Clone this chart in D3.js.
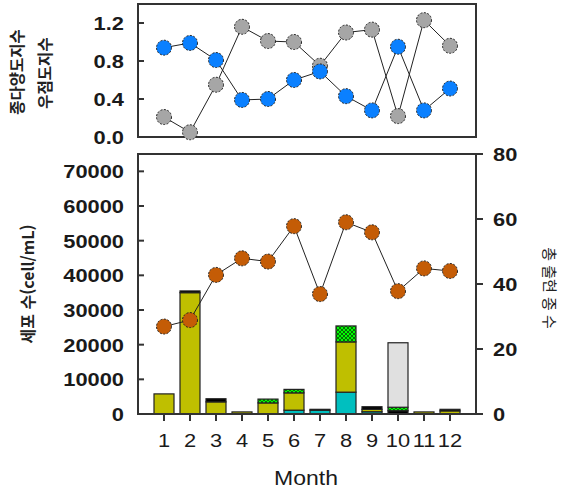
<!DOCTYPE html>
<html lang="ko">
  <head>
    <meta charset="UTF-8" />
    <script src="https://d3js.org/d3.v7.min.js"></script>
    <title>Month chart</title>
    <style>
      body { margin: 0; background: #fff; }
      text { font-family: "Liberation Sans", Arial, sans-serif; }
      .kr { font-family: "Noto Sans CJK KR", sans-serif; }
    </style>
  </head>
  <body>
    <svg id="chart" width="568" height="492"></svg>
    <script>
      // months
      var months = [1, 2, 3, 4, 5, 6, 7, 8, 9, 10, 11, 12];

      // top panel: index values
      var diversity = [0.21, 0.05, 0.55, 1.16, 1.01, 1.0, 0.75, 1.10, 1.13, 0.22, 1.23, 0.96];
      var dominance = [0.94, 0.99, 0.81, 0.39, 0.40, 0.60, 0.69, 0.43, 0.28, 0.95, 0.28, 0.51];
      var topTicks = [0.0, 0.4, 0.8, 1.2];

      // bottom panel: stacked cell counts (cells/mL)
      var cyanCells  = [0, 0, 0, 0, 0, 1100, 1100, 6300, 650, 0, 0, 0];
      var oliveCells = [5800, 35000, 3500, 600, 3200, 5000, 0, 14500, 700, 0, 600, 900];
      var blackCells = [0, 500, 900, 0, 0, 0, 250, 0, 750, 950, 0, 450];
      var greenCells = [0, 0, 0, 0, 1100, 1000, 0, 4600, 0, 1000, 0, 0];
      var grayCells  = [0, 0, 0, 0, 0, 0, 0, 0, 0, 18600, 0, 0];
      var cellTicks = [0, 10000, 20000, 30000, 40000, 50000, 60000, 70000];

      // total species
      var species = [26.9, 28.9, 42.8, 47.9, 46.9, 57.8, 36.9, 59.0, 55.9, 37.8, 44.8, 44.0];
      var speciesTicks = [0, 20, 40, 60, 80];

      var svg = d3.select('#chart');

      var left = 138, right = 476;
      var x = d3.scaleLinear().domain([0, 13]).range([left, right]);
      var stretch = 1.15;   // labels in the source look a bit wide

      // hatched pattern for the green series
      var defs = svg.append('defs');
      var pat = defs.append('pattern')
        .attr('id', 'hatch')
        .attr('width', 4).attr('height', 4)
        .attr('patternUnits', 'userSpaceOnUse');
      pat.append('rect').attr('width', 4).attr('height', 4).attr('fill', '#00ff00');
      pat.append('path').attr('d', 'M0,0 L4,4 M4,0 L0,4')
        .attr('stroke', '#0a5a0a').attr('stroke-width', 0.9);

      function label(g, tx, ty, anchor, size, bold, str) {
        return g.append('text')
          .attr('transform', 'translate(' + tx + ',' + ty + ') scale(' + stretch + ',1)')
          .attr('text-anchor', anchor)
          .attr('font-size', size)
          .attr('font-weight', bold ? 'bold' : 'normal')
          .attr('fill', '#1a1a1a')
          .text(str);
      }

      // ---------- top panel ----------
      var yTop = d3.scaleLinear().domain([0, 1.4]).range([137, 4]);

      var gTop = svg.append('g');
      gTop.append('rect')
        .attr('x', left).attr('y', 4)
        .attr('width', right - left).attr('height', 133)
        .attr('fill', 'none').attr('stroke', '#333').attr('stroke-width', 2);

      gTop.selectAll('.tick').data(topTicks).enter().append('line')
        .attr('x1', left).attr('x2', left + 6)
        .attr('y1', function(d) { return yTop(d); })
        .attr('y2', function(d) { return yTop(d); })
        .attr('stroke', '#333').attr('stroke-width', 2);

      topTicks.forEach(function(d) {
        label(gTop, 124, yTop(d) + 7, 'end', 19, true, d.toFixed(1));
      });

      function dotSeries(g, values, yScale, fill) {
        g.append('path').datum(values)
          .attr('d', d3.line()
            .x(function(d, i) { return x(months[i]); })
            .y(function(d) { return yScale(d); }))
          .attr('fill', 'none').attr('stroke', '#222').attr('stroke-width', 1);
        g.selectAll(null).data(values).enter().append('circle')
          .attr('cx', function(d, i) { return x(months[i]); })
          .attr('cy', function(d) { return yScale(d); })
          .attr('r', 7.5)
          .attr('fill', fill)
          .attr('stroke', '#222').attr('stroke-width', 1)
          .attr('stroke-dasharray', '2,1.5');
      }

      dotSeries(gTop, diversity, yTop, '#a6a6a6');
      dotSeries(gTop, dominance, yTop, '#0a80ff');

      // top left title (two lines)
      svg.append('text').attr('class', 'kr')
        .attr('transform', 'translate(23,72) rotate(-90)')
        .attr('text-anchor', 'middle')
        .attr('font-size', 15.5).attr('font-weight', 'bold').attr('fill', '#222')
        .text('종다양도지수');
      svg.append('text').attr('class', 'kr')
        .attr('transform', 'translate(51,73) rotate(-90)')
        .attr('text-anchor', 'middle')
        .attr('font-size', 15.5).attr('font-weight', 'bold').attr('fill', '#222')
        .text('우점도지수');

      // ---------- bottom panel ----------
      var top2 = 154, bottom2 = 414;
      var yCells = d3.scaleLinear().domain([0, 75000]).range([bottom2, top2]);
      var ySpecies = d3.scaleLinear().domain([0, 80]).range([bottom2, top2]);

      var gBot = svg.append('g');

      var table = months.map(function(m, i) {
        return {
          month: m,
          cyan: cyanCells[i],
          olive: oliveCells[i],
          black: blackCells[i],
          green: greenCells[i],
          gray: grayCells[i]
        };
      });
      var keys = ['cyan', 'olive', 'black', 'green', 'gray'];
      var fills = { cyan: '#00bfbf', olive: '#bfbf00', black: '#000000', green: 'url(#hatch)', gray: '#e0e0e0' };
      var stacked = d3.stack().keys(keys)(table);

      stacked.forEach(function(layer) {
        gBot.selectAll(null).data(layer.filter(function(d) { return d[1] > d[0]; }))
          .enter().append('rect')
          .attr('x', function(d) { return x(d.data.month) - 10; })
          .attr('width', 20)
          .attr('y', function(d) { return yCells(d[1]); })
          .attr('height', function(d) { return yCells(d[0]) - yCells(d[1]); })
          .attr('fill', fills[layer.key])
          .attr('stroke', '#222').attr('stroke-width', 1.2);
      });

      gBot.append('rect')
        .attr('x', left).attr('y', top2)
        .attr('width', right - left).attr('height', bottom2 - top2)
        .attr('fill', 'none').attr('stroke', '#333').attr('stroke-width', 2);

      // left axis ticks (inside)
      gBot.selectAll(null).data(cellTicks).enter().append('line')
        .attr('x1', left).attr('x2', left + 6)
        .attr('y1', function(d) { return yCells(d); })
        .attr('y2', function(d) { return yCells(d); })
        .attr('stroke', '#333').attr('stroke-width', 2);
      cellTicks.forEach(function(d) {
        label(gBot, 124, yCells(d) + 7, 'end', 19, true, d);
      });

      // right axis ticks (outside)
      gBot.selectAll(null).data(speciesTicks).enter().append('line')
        .attr('x1', right).attr('x2', right + 7)
        .attr('y1', function(d) { return ySpecies(d); })
        .attr('y2', function(d) { return ySpecies(d); })
        .attr('stroke', '#333').attr('stroke-width', 2);
      speciesTicks.forEach(function(d) {
        label(gBot, 493, ySpecies(d) + 7, 'start', 19, true, d);
      });

      // month ticks (outside, below)
      gBot.selectAll(null).data(months).enter().append('line')
        .attr('x1', function(d) { return x(d); })
        .attr('x2', function(d) { return x(d); })
        .attr('y1', bottom2).attr('y2', bottom2 + 7)
        .attr('stroke', '#333').attr('stroke-width', 2);
      months.forEach(function(d) {
        label(gBot, x(d), 447, 'middle', 19, false, d);
      });

      dotSeries(gBot, species, ySpecies, '#c45c06');

      // axis titles
      label(svg, 306, 485, 'middle', 20, false, 'Month');

      svg.append('text').attr('class', 'kr')
        .attr('transform', 'translate(34,284) rotate(-90)')
        .attr('text-anchor', 'middle')
        .attr('font-size', 16).attr('font-weight', 'bold').attr('fill', '#222')
        .text('세포 수(cell/mL)');

      svg.append('text').attr('class', 'kr')
        .attr('transform', 'translate(544,288) rotate(90)')
        .attr('text-anchor', 'middle')
        .attr('font-size', 15).attr('fill', '#222')
        .text('총 출현 종 수');
    </script>
  </body>
</html>
